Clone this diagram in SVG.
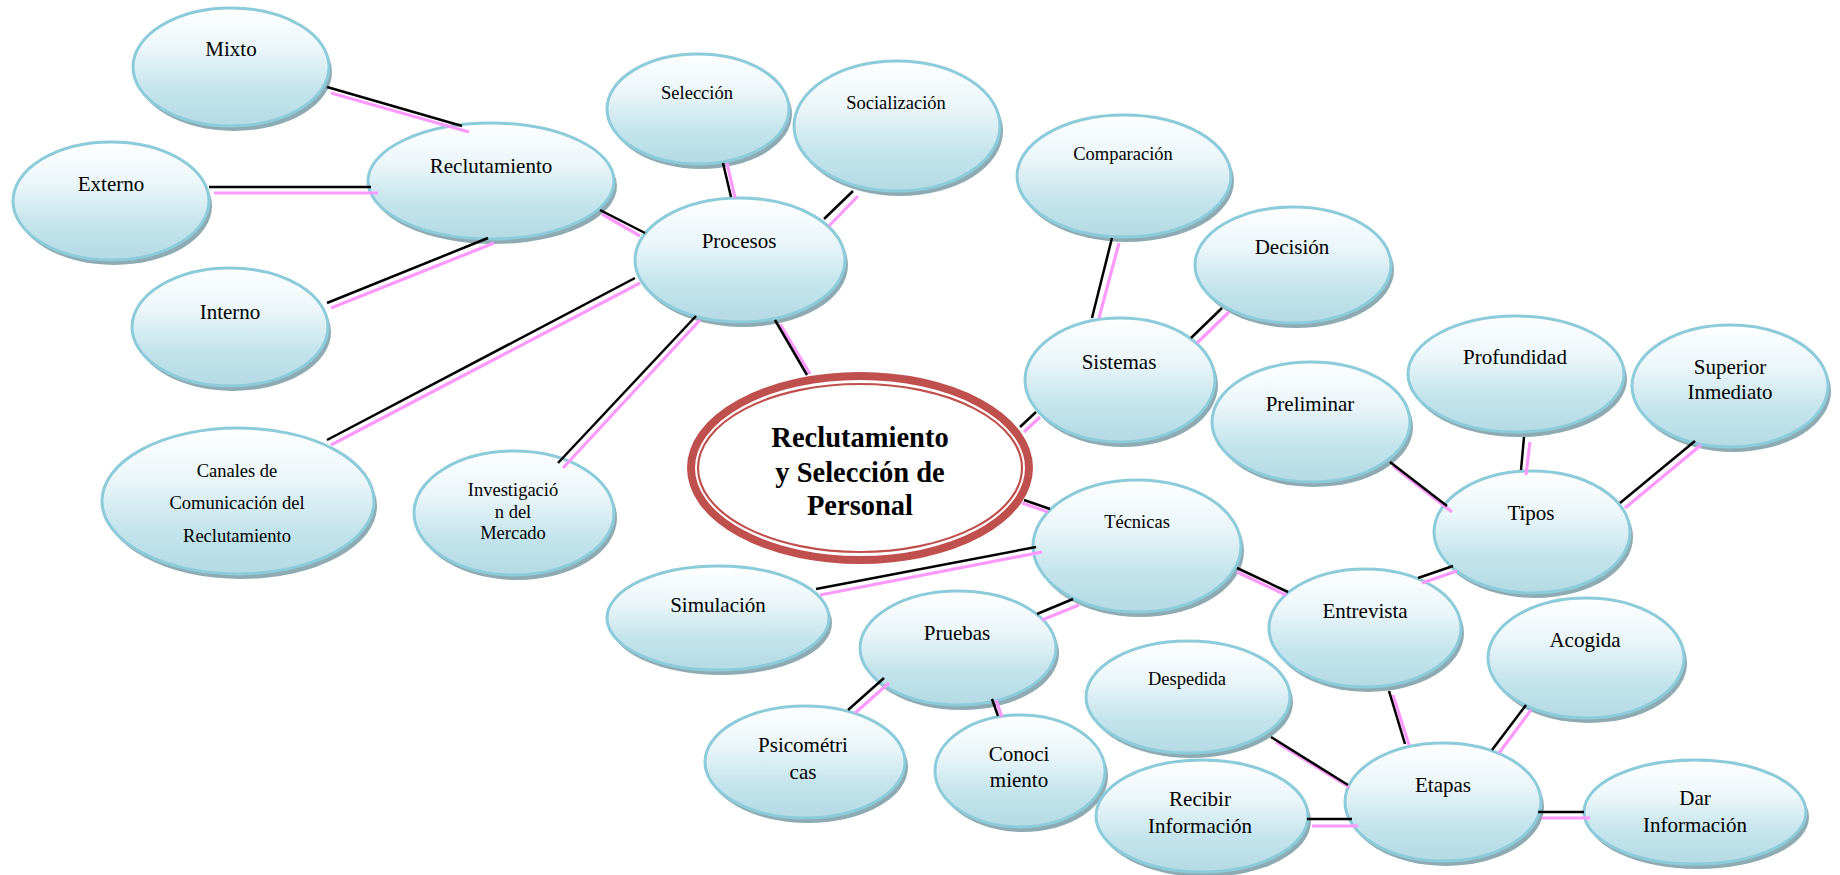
<svg xmlns="http://www.w3.org/2000/svg" width="1840" height="875" viewBox="0 0 1840 875">
<defs>
<linearGradient id="g" x1="0" y1="0" x2="0" y2="1">
<stop offset="0" stop-color="#ffffff"/>
<stop offset="0.35" stop-color="#ebf6f9"/>
<stop offset="0.7" stop-color="#c3e4ec"/>
<stop offset="1" stop-color="#b4dae4"/>
</linearGradient>
<style>
.sh{fill:#8eabb3}
.el{fill:url(#g);stroke:#8ccbd9;stroke-width:3}
.t{font-family:"Liberation Serif","Times New Roman",serif;font-size:21px;fill:#000;text-anchor:middle}
.s{font-size:18.5px}
.ct{font-family:"Liberation Serif","Times New Roman",serif;font-size:28.5px;font-weight:bold;fill:#000;text-anchor:middle}
.b{stroke:#000;stroke-width:2.5;fill:none}
.p{stroke:#ff99ff;stroke-width:3.2;fill:none}
</style>
</defs>
<rect width="1840" height="875" fill="#fff"/>

<g id="mixto"><ellipse class="sh" cx="234" cy="72" rx="98" ry="59"/><ellipse class="el" cx="231" cy="67" rx="98" ry="59"/><text class="t" x="231" y="56">Mixto</text></g>
<g id="externo"><ellipse class="sh" cx="114" cy="206" rx="98" ry="59"/><ellipse class="el" cx="111" cy="201" rx="98" ry="59"/><text class="t" x="111" y="191">Externo</text></g>
<g id="reclutamiento"><ellipse class="sh" cx="494" cy="186" rx="123" ry="58"/><ellipse class="el" cx="491" cy="181" rx="123" ry="58"/><text class="t" x="491" y="173">Reclutamiento</text></g>
<g id="interno"><ellipse class="sh" cx="233" cy="332" rx="98" ry="59"/><ellipse class="el" cx="230" cy="327" rx="98" ry="59"/><text class="t" x="230" y="319">Interno</text></g>
<g id="canales"><ellipse class="sh" cx="241" cy="506" rx="136" ry="73"/><ellipse class="el" cx="238" cy="501" rx="136" ry="73"/><text class="t s" x="237" y="477">Canales de</text><text class="t s" x="237" y="509">Comunicación del</text><text class="t s" x="237" y="542">Reclutamiento</text></g>
<g id="investigacion"><ellipse class="sh" cx="517" cy="518" rx="100" ry="62"/><ellipse class="el" cx="514" cy="513" rx="100" ry="62"/><text class="t s" x="513" y="496">Investigació</text><text class="t s" x="513" y="518">n del</text><text class="t s" x="513" y="539">Mercado</text></g>
<g id="seleccion"><ellipse class="sh" cx="701" cy="114" rx="91" ry="55"/><ellipse class="el" cx="698" cy="109" rx="91" ry="55"/><text class="t s" x="697" y="99">Selección</text></g>
<g id="socializacion"><ellipse class="sh" cx="900" cy="131" rx="103" ry="65"/><ellipse class="el" cx="897" cy="126" rx="103" ry="65"/><text class="t s" x="896" y="109">Socialización</text></g>
<g id="procesos"><ellipse class="sh" cx="743" cy="265" rx="105" ry="62"/><ellipse class="el" cx="740" cy="260" rx="105" ry="62"/><text class="t" x="739" y="248">Procesos</text></g>
<g id="comparacion"><ellipse class="sh" cx="1127" cy="181" rx="107" ry="61"/><ellipse class="el" cx="1124" cy="176" rx="107" ry="61"/><text class="t s" x="1123" y="160">Comparación</text></g>
<g id="decision"><ellipse class="sh" cx="1296" cy="270" rx="98" ry="58"/><ellipse class="el" cx="1293" cy="265" rx="98" ry="58"/><text class="t" x="1292" y="254">Decisión</text></g>
<g id="sistemas"><ellipse class="sh" cx="1123" cy="385" rx="95" ry="62"/><ellipse class="el" cx="1120" cy="380" rx="95" ry="62"/><text class="t" x="1119" y="369">Sistemas</text></g>
<g id="central"><ellipse cx="860" cy="468" rx="169" ry="92" fill="#fff" stroke="#c0504d" stroke-width="8"/><ellipse cx="860" cy="468" rx="162" ry="84" fill="none" stroke="#c0504d" stroke-width="2.2"/><text class="ct" x="860" y="447">Reclutamiento</text><text class="ct" x="860" y="482">y Selección de</text><text class="ct" x="860" y="515">Personal</text></g>
<g id="tecnicas"><ellipse class="sh" cx="1140" cy="551" rx="104" ry="66"/><ellipse class="el" cx="1137" cy="546" rx="104" ry="66"/><text class="t s" x="1137" y="528">Técnicas</text></g>
<g id="preliminar"><ellipse class="sh" cx="1314" cy="427" rx="99" ry="60"/><ellipse class="el" cx="1311" cy="422" rx="99" ry="60"/><text class="t" x="1310" y="411">Preliminar</text></g>
<g id="profundidad"><ellipse class="sh" cx="1519" cy="379" rx="108" ry="58"/><ellipse class="el" cx="1516" cy="374" rx="108" ry="58"/><text class="t" x="1515" y="364">Profundidad</text></g>
<g id="superior"><ellipse class="sh" cx="1733" cy="391" rx="98" ry="61"/><ellipse class="el" cx="1730" cy="386" rx="98" ry="61"/><text class="t" x="1730" y="374">Superior</text><text class="t" x="1730" y="399">Inmediato</text></g>
<g id="tipos"><ellipse class="sh" cx="1535" cy="537" rx="98" ry="61"/><ellipse class="el" cx="1532" cy="532" rx="98" ry="61"/><text class="t" x="1531" y="520">Tipos</text></g>
<g id="simulacion"><ellipse class="sh" cx="721" cy="623" rx="111" ry="52"/><ellipse class="el" cx="718" cy="618" rx="111" ry="52"/><text class="t" x="718" y="612">Simulación</text></g>
<g id="pruebas"><ellipse class="sh" cx="961" cy="653" rx="98" ry="57"/><ellipse class="el" cx="958" cy="648" rx="98" ry="57"/><text class="t" x="957" y="640">Pruebas</text></g>
<g id="psicometricas"><ellipse class="sh" cx="808" cy="767" rx="100" ry="56"/><ellipse class="el" cx="805" cy="762" rx="100" ry="56"/><text class="t" x="803" y="752">Psicométri</text><text class="t" x="803" y="779">cas</text></g>
<g id="conocimiento"><ellipse class="sh" cx="1023" cy="776" rx="85" ry="56"/><ellipse class="el" cx="1020" cy="771" rx="85" ry="56"/><text class="t" x="1019" y="761">Conoci</text><text class="t" x="1019" y="787">miento</text></g>
<g id="despedida"><ellipse class="sh" cx="1191" cy="702" rx="102" ry="56"/><ellipse class="el" cx="1188" cy="697" rx="102" ry="56"/><text class="t s" x="1187" y="685">Despedida</text></g>
<g id="recibir"><ellipse class="sh" cx="1205" cy="821" rx="106" ry="56"/><ellipse class="el" cx="1202" cy="816" rx="106" ry="56"/><text class="t" x="1200" y="806">Recibir</text><text class="t" x="1200" y="833">Información</text></g>
<g id="entrevista"><ellipse class="sh" cx="1368" cy="633" rx="96" ry="59"/><ellipse class="el" cx="1365" cy="628" rx="96" ry="59"/><text class="t" x="1365" y="618">Entrevista</text></g>
<g id="acogida"><ellipse class="sh" cx="1589" cy="663" rx="98" ry="60"/><ellipse class="el" cx="1586" cy="658" rx="98" ry="60"/><text class="t" x="1585" y="647">Acogida</text></g>
<g id="etapas"><ellipse class="sh" cx="1446" cy="807" rx="98" ry="59"/><ellipse class="el" cx="1443" cy="802" rx="98" ry="59"/><text class="t" x="1443" y="792">Etapas</text></g>
<g id="dar"><ellipse class="sh" cx="1698" cy="817" rx="111" ry="52"/><ellipse class="el" cx="1695" cy="812" rx="111" ry="52"/><text class="t" x="1695" y="805">Dar</text><text class="t" x="1695" y="832">Información</text></g>

<g id="connectors">
<g class="pink">
<line class="p" x1="331" y1="93" x2="469" y2="132"/>
<line class="p" x1="214" y1="193" x2="378" y2="193"/>
<line class="p" x1="494" y1="243" x2="331" y2="308"/>
<line class="p" x1="602" y1="214" x2="640" y2="236"/>
<line class="p" x1="727" y1="163" x2="735" y2="198"/>
<line class="p" x1="858" y1="196" x2="829" y2="226"/>
<line class="p" x1="640" y1="283" x2="331" y2="445"/>
<line class="p" x1="700" y1="320" x2="563" y2="468"/>
<line class="p" x1="780" y1="324" x2="810" y2="374"/>
<line class="p" x1="1119" y1="243" x2="1099" y2="318"/>
<line class="p" x1="1229" y1="312" x2="1197" y2="343"/>
<line class="p" x1="1040" y1="417" x2="1024" y2="432"/>
<line class="p" x1="1022" y1="503" x2="1048" y2="512"/>
<line class="p" x1="1042" y1="552" x2="820" y2="595"/>
<line class="p" x1="1237" y1="572" x2="1286" y2="595"/>
<line class="p" x1="1079" y1="605" x2="1042" y2="620"/>
<line class="p" x1="889" y1="683" x2="855" y2="713"/>
<line class="p" x1="996" y1="700" x2="1002" y2="717"/>
<line class="p" x1="1393" y1="466" x2="1452" y2="512"/>
<line class="p" x1="1530" y1="442" x2="1526" y2="475"/>
<line class="p" x1="1701" y1="445" x2="1625" y2="508"/>
<line class="p" x1="1457" y1="571" x2="1422" y2="583"/>
<line class="p" x1="1393" y1="695" x2="1409" y2="745"/>
<line class="p" x1="1531" y1="710" x2="1499" y2="753"/>
<line class="p" x1="1276" y1="742" x2="1349" y2="787"/>
<line class="p" x1="1312" y1="826" x2="1358" y2="826"/>
<line class="p" x1="1542" y1="818" x2="1590" y2="818"/>
</g>
<g class="black">
<line class="b" x1="327" y1="87" x2="462" y2="126"/>
<line class="b" x1="209" y1="187" x2="371" y2="187"/>
<line class="b" x1="488" y1="238" x2="327" y2="303"/>
<line class="b" x1="600" y1="210" x2="645" y2="233"/>
<line class="b" x1="723" y1="163" x2="731" y2="197"/>
<line class="b" x1="853" y1="191" x2="824" y2="219"/>
<line class="b" x1="635" y1="278" x2="327" y2="440"/>
<line class="b" x1="696" y1="316" x2="558" y2="463"/>
<line class="b" x1="775" y1="320" x2="807" y2="375"/>
<line class="b" x1="1112" y1="238" x2="1092" y2="318"/>
<line class="b" x1="1222" y1="308" x2="1191" y2="338"/>
<line class="b" x1="1036" y1="412" x2="1020" y2="427"/>
<line class="b" x1="1024" y1="500" x2="1050" y2="509"/>
<line class="b" x1="1036" y1="547" x2="816" y2="589"/>
<line class="b" x1="1237" y1="568" x2="1288" y2="592"/>
<line class="b" x1="1073" y1="599" x2="1037" y2="614"/>
<line class="b" x1="884" y1="678" x2="848" y2="710"/>
<line class="b" x1="992" y1="699" x2="998" y2="716"/>
<line class="b" x1="1390" y1="462" x2="1447" y2="506"/>
<line class="b" x1="1524" y1="437" x2="1521" y2="470"/>
<line class="b" x1="1695" y1="441" x2="1620" y2="503"/>
<line class="b" x1="1453" y1="566" x2="1418" y2="578"/>
<line class="b" x1="1389" y1="691" x2="1405" y2="744"/>
<line class="b" x1="1526" y1="705" x2="1492" y2="750"/>
<line class="b" x1="1271" y1="737" x2="1348" y2="785"/>
<line class="b" x1="1307" y1="819" x2="1352" y2="819"/>
<line class="b" x1="1538" y1="812" x2="1584" y2="812"/>
</g>
</g>
</svg>
